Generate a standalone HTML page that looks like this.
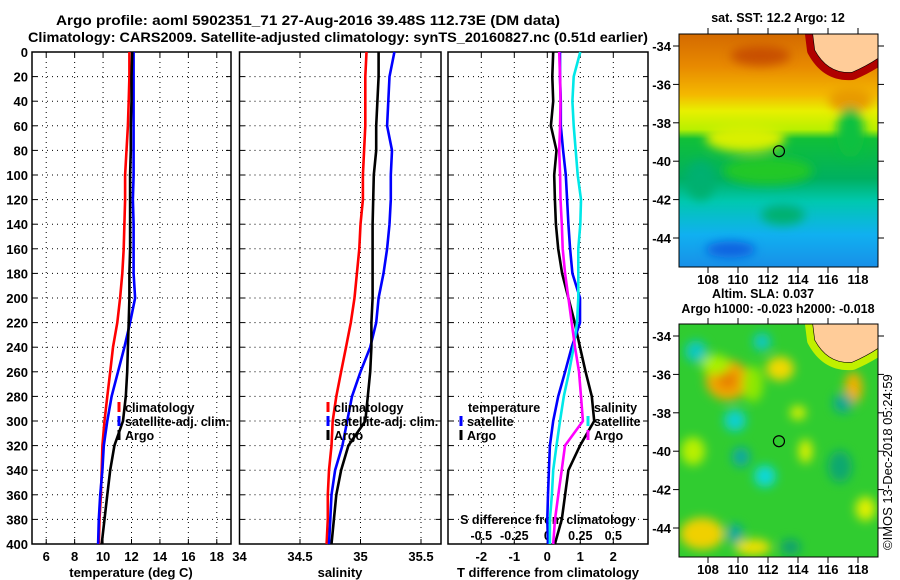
<!DOCTYPE html>
<html><head><meta charset="utf-8"><style>
html,body{margin:0;padding:0;background:#fff;}
svg{display:block;font-family:"Liberation Sans",sans-serif;font-weight:bold;}
</style></head><body>
<svg id="fig" width="900" height="580" viewBox="0 0 900 580" xmlns="http://www.w3.org/2000/svg">
<defs>
<linearGradient id="sstg" x1="0" y1="0" x2="0" y2="1">
<stop offset="0" stop-color="#d46a00"/><stop offset="0.14" stop-color="#e88a00"/><stop offset="0.26" stop-color="#f4b800"/><stop offset="0.33" stop-color="#e8f000"/><stop offset="0.41" stop-color="#b8f000"/><stop offset="0.45" stop-color="#10c038"/><stop offset="0.62" stop-color="#00b060"/><stop offset="0.72" stop-color="#00c8b0"/><stop offset="0.86" stop-color="#10b0f0"/><stop offset="1" stop-color="#1890e8"/>
</linearGradient>
<filter id="blur" x="-20%" y="-20%" width="140%" height="140%"><feGaussianBlur stdDeviation="5"/></filter>
<clipPath id="clip1"><rect x="679" y="34" width="199" height="233"/></clipPath>
<clipPath id="clip2"><rect x="679" y="324" width="199" height="233"/></clipPath>
</defs>
<rect width="900" height="580" fill="#fff"/>
<text x="56" y="25" font-size="14" textLength="504" lengthAdjust="spacingAndGlyphs">Argo profile: aoml 5902351_71 27-Aug-2016 39.48S 112.73E (DM data)</text>
<text x="338" y="42" font-size="14" text-anchor="middle" textLength="620" lengthAdjust="spacingAndGlyphs">Climatology: CARS2009. Satellite-adjusted climatology: synTS_20160827.nc (0.51d earlier)</text>
<g id="panels"></g>
<g id="maps"></g>
<text transform="translate(892,550) rotate(-90)" font-size="13" font-weight="normal">©IMOS 13-Dec-2018 05:24:59</text>
</svg>
<script>
const depths=[0,20,40,60,80,100,120,140,160,180,200,220,240,260,280,300,320,340,360,380,400];
const depthTicks=[0,20,40,60,80,100,120,140,160,180,200,220,240,260,280,300,320,340,360,380,400];
const tClim=[11.85,11.85,11.8,11.75,11.65,11.55,11.55,11.5,11.45,11.35,11.2,11.0,10.7,10.5,10.3,10.1,9.95,9.9,9.85,9.75,9.7];
const tSat=[12.15,12.15,12.15,12.15,12.15,12.15,12.1,12.15,12.15,12.15,12.25,11.9,11.5,11.05,10.6,10.3,10.05,9.95,9.8,9.7,9.65];
const tArgo=[12.05,12.0,12.0,11.95,11.95,11.9,11.9,11.9,11.9,11.85,11.85,11.8,11.75,11.7,11.6,11.4,10.8,10.5,10.3,10.1,9.9];
const sClim=[35.05,35.04,35.04,35.04,35.03,35.02,35.02,35.0,34.99,34.97,34.95,34.92,34.88,34.84,34.8,34.77,34.76,34.74,34.73,34.73,34.72];
const sSat=[35.28,35.24,35.23,35.22,35.26,35.25,35.25,35.24,35.22,35.19,35.15,35.13,35.08,35.0,34.93,34.89,34.85,34.79,34.76,34.75,34.74];
const sArgo=[35.15,35.15,35.14,35.13,35.13,35.11,35.105,35.1,35.1,35.1,35.1,35.09,35.09,35.08,35.06,35.04,34.9,34.84,34.8,34.78,34.76];
const dTArgo=[0.18,0.15,0.18,0.11,0.28,0.21,0.23,0.26,0.33,0.45,0.64,0.83,0.99,1.16,1.35,1.42,0.99,0.64,0.54,0.44,0.23];
const dTSat=[0.385,0.385,0.41,0.41,0.48,0.56,0.6,0.64,0.69,0.76,0.99,0.99,0.74,0.54,0.33,0.18,0.08,0.05,0.02,0,0.02];
const dSSat=[0.25,0.2,0.19,0.2,0.215,0.23,0.255,0.25,0.235,0.235,0.235,0.225,0.2,0.165,0.125,0.096,0.07,0.045,0.035,0.02,0.02];
const dSArgo=[0.09,0.096,0.1,0.097,0.09,0.097,0.1,0.11,0.117,0.135,0.16,0.185,0.21,0.24,0.255,0.27,0.134,0.109,0.083,0.058,0.045];
const tTicks=[6,8,10,12,14,16,18];
const sTicks=[34,34.5,35,35.5];
const dtTicks=[-2,-1,0,1,2];
const dsTicks=[-0.5,-0.25,0,0.25,0.5];
const dsTickLabels=["-0.5","-0.25","0","0.25","0.5"];
const lonTicks=[108,110,112,114,116,118];
const latTicks=[-34,-36,-38,-40,-42,-44];
const argoLon=112.73, argoLat=-39.48;

const NS='http://www.w3.org/2000/svg';
function mk(tag,attrs,parent,txt){const e=document.createElementNS(NS,tag);for(const k in attrs)e.setAttribute(k,attrs[k]);if(txt!==undefined)e.textContent=txt;parent.appendChild(e);return e;}
const TOP=52,BOT=544;
const yD=d=>TOP+d*(BOT-TOP)/400;
const xT=v=>32+(v-5)*(199/14);
const xS=v=>239.5+(v-34)*121;
const xDT=v=>547.3+v*33;
const xDS=v=>547.3+v*132;
const G=document.getElementById('panels');

function frame(x0,x1,name,vgrid){
  const g=mk('g',{},G);
  
  
  vgrid.forEach(x=>{const l=mk('line',{x1:x,x2:x,y1:TOP,y2:BOT,stroke:'#000','stroke-width':1,'stroke-dasharray':'1,4'},g);
    
    mk('line',{x1:x,x2:x,y1:BOT,y2:BOT-5,stroke:'#000'},g);mk('line',{x1:x,x2:x,y1:TOP,y2:TOP+5,stroke:'#000'},g);});
  depthTicks.forEach(d=>{const y=yD(d);
    if(d>0&&d<400){const l=mk('line',{x1:x0,x2:x1,y1:y,y2:y,stroke:'#000','stroke-width':1,'stroke-dasharray':'1,4'},g);
      }
    mk('line',{x1:x0,x2:x0+5,y1:y,y2:y,stroke:'#000'},g);mk('line',{x1:x1-5,x2:x1,y1:y,y2:y,stroke:'#000'},g);});
  const r=mk('rect',{x:x0,y:TOP,width:x1-x0,height:BOT-TOP,fill:'none',stroke:'#000','stroke-width':1.5},g);
  
  return g;
}
function line(g,vals,fx,color,name){
  const pts=vals.map((v,i)=>fx(v).toFixed(1)+','+yD(depths[i]).toFixed(1)).join(' ');
  const p=mk('polyline',{points:pts,fill:'none',stroke:color,'stroke-width':2.6},g);
  
}
function txt(g,x,y,s,size,anchor,name,color){
  const t=mk('text',{x:x,y:y,'font-size':size,'text-anchor':anchor||'start',fill:color||'#000'},g,s);
  return t;
}
function legend(g,x,y,color,label,name){
  const m=mk('line',{x1:x,x2:x,y1:y-10,y2:y,stroke:color,'stroke-width':3},g);
  
  txt(g,x+6,y,label,12.5,'start',name);
}

const g1=frame(32,231,'temperature-panel',tTicks.map(xT));
depthTicks.forEach(d=>txt(g1,28,yD(d)+5,String(d),13,'end','depth-tick-label'));
tTicks.forEach(v=>txt(g1,xT(v),561,String(v),13,'middle','temperature-tick-label'));
txt(g1,131,577,'temperature (deg C)',13,'middle','temperature-axis-title');
line(g1,tClim,xT,'#ff0000','temp-climatology-line');
line(g1,tSat,xT,'#0000ff','temp-satellite-line');
line(g1,tArgo,xT,'#000000','temp-argo-line');
legend(g1,119,412,'#ff0000','climatology','legend-climatology');
legend(g1,119,426,'#0000ff','satellite-adj. clim.','legend-satellite-adj');
legend(g1,119,440,'#000000','Argo','legend-argo');

const g2=frame(239.5,441,'salinity-panel',[34.5,35,35.5].map(xS));
sTicks.forEach(v=>txt(g2,xS(v),561,String(v),13,'middle','salinity-tick-label'));
txt(g2,340,577,'salinity',13,'middle','salinity-axis-title');
line(g2,sClim,xS,'#ff0000','sal-climatology-line');
line(g2,sSat,xS,'#0000ff','sal-satellite-line');
line(g2,sArgo,xS,'#000000','sal-argo-line');
legend(g2,328,412,'#ff0000','climatology','legend-climatology');
legend(g2,328,426,'#0000ff','satellite-adj. clim.','legend-satellite-adj');
legend(g2,328,440,'#000000','Argo','legend-argo');

const g3=frame(448,648,'difference-panel',dtTicks.map(xDT));
dtTicks.forEach(v=>txt(g3,xDT(v),561,String(v),13,'middle','t-diff-tick-label'));
txt(g3,548,577,'T difference from climatology',13,'middle','t-diff-axis-title');
txt(g3,548,524,'S difference from climatology',12.5,'middle','s-diff-axis-title');
dsTicks.forEach((v,i)=>txt(g3,xDS(v),540,dsTickLabels[i],12.5,'middle','s-diff-tick-label'));
line(g3,dTArgo,xDT,'#000000','t-diff-argo-line');
line(g3,dTSat,xDT,'#0000ff','t-diff-satellite-line');
line(g3,dSSat,xDS,'#00e8e8','s-diff-satellite-line');
line(g3,dSArgo,xDS,'#ff00ff','s-diff-argo-line');
txt(g3,468,412,'temperature',12.5,'start','legend-temperature-header');
legend(g3,461,426,'#0000ff','satellite','legend-t-satellite');
legend(g3,461,440,'#000000','Argo','legend-t-argo');
txt(g3,594,412,'salinity',12.5,'start','legend-salinity-header');
legend(g3,588,426,'#00e8e8','satellite','legend-s-satellite');
legend(g3,588,440,'#ff00ff','Argo','legend-s-argo');

const M=document.getElementById('maps');
function mapFrame(top,name,title1,title2,bg,blobs,landHalo){
  const g=mk('g',{},M);
  
  const lx=v=>708+(v-108)*15, ly=v=>top+12+(-34-v)*19.2;
  const c=mk('g',{'clip-path':'url(#clip'+(top<100?1:2)+')'},g);
  mk('rect',{x:679,y:top,width:199,height:233,fill:bg},c);
  const b=mk('g',{filter:'url(#blur)'},c);
  blobs.forEach(o=>mk('ellipse',{cx:lx(o[0]),cy:ly(o[1]),rx:o[2],ry:o[3],fill:o[4]},b));
  const land='M813,'+top+' L815,'+(top+16)+' Q828,'+(top+40)+' 852,'+(top+38)+' Q866,'+(top+32)+' 878,'+(top+24)+' L878,'+top+' Z';
  mk('path',{d:land,fill:landHalo,stroke:landHalo,'stroke-width':16,'stroke-linejoin':'round'},c);
  mk('path',{d:land,fill:'#ffcc99',stroke:'#000','stroke-width':1.2},c);
  const land2=mk('path',{d:land,fill:'#ffcc99',stroke:'none'},c);
  
  const ci=mk('circle',{cx:lx(argoLon),cy:ly(argoLat),r:5.5,fill:'none',stroke:'#000','stroke-width':1.2},g);
  
  mk('rect',{x:679,y:top,width:199,height:233,fill:'none',stroke:'#000','stroke-width':1},g);
  latTicks.forEach(v=>{const y=ly(v);mk('line',{x1:673,x2:679,y1:y,y2:y,stroke:'#000'},g);mk('line',{x1:878,x2:884,y1:y,y2:y,stroke:'#000'},g);
    txt(g,671,y+5,String(v),13,'end','latitude-tick-label');});
  lonTicks.forEach(v=>{const x=lx(v);mk('line',{x1:x,x2:x,y1:top+233,y2:top+239,stroke:'#000'},g);mk('line',{x1:x,x2:x,y1:top-6,y2:top,stroke:'#000'},g);
    txt(g,x,top+250,String(v),13,'middle','longitude-tick-label');});
  if(title2){txt(g,763,top-26,title1,12.5,'middle','map-title');txt(g,778,top-11,title2,12.5,'middle','map-subtitle');}
  else txt(g,778,top-12,title1,12.5,'middle','map-title');
}
mapFrame(34,'sst-map','sat. SST: 12.2 Argo: 12',null,'url(#sstg)',[
 [111.5,-34.5,30,10,'#c85000'],[117.5,-36.8,22,12,'#e89a00'],[110.5,-38.8,40,14,'#d8f000'],[117.5,-38.5,14,25,'#10c040'],
 [112,-40.5,45,14,'#20c828'],[109.5,-44.6,25,8,'#1060e0'],[113,-42.8,22,10,'#00b070'],[107.5,-41,15,20,'#00b070']],'#b00000');
mapFrame(324,'sla-map','Altim. SLA: 0.037','Argo h1000: -0.023 h2000: -0.018','#30cc30',[
 [109.3,-36.3,22,20,'#f0a800'],[109.3,-36.3,10,9,'#e88000'],[112.8,-35.7,14,12,'#f0d800'],[117.7,-36.7,9,16,'#f0b000'],
 [107.6,-44.3,22,16,'#f0d000'],[111,-45,18,8,'#f0e000'],[114.5,-40,7,12,'#d8f000'],[114,-38,8,7,'#d8f000'],
 [118.5,-43,10,12,'#e0f000'],[107,-40,12,14,'#b8f000'],[108.5,-35.5,14,10,'#a8f000'],[111,-36.5,10,18,'#90e800'],
 [107.2,-34.8,11,11,'#10c8c0'],[111.6,-34.3,9,9,'#10c8c0'],[109.8,-38.4,11,11,'#10d0d0'],[110.2,-40.3,9,10,'#10a8a0'],
 [111.8,-41.3,11,11,'#10d8d8'],[109.8,-44.3,8,10,'#10a8a0'],[113.5,-45,10,8,'#10a070'],[116.8,-40.8,12,16,'#10a870'],[117,-37.5,10,10,'#10a890']],'#c0f000');
</script>
</body></html>
